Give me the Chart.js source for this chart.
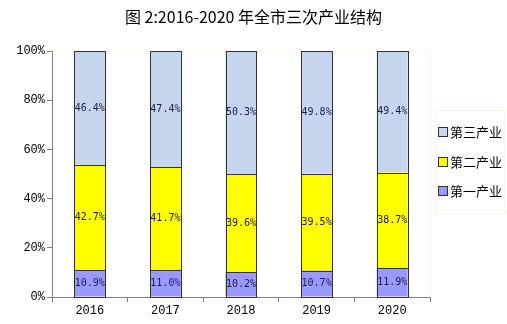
<!DOCTYPE html>
<html>
<head>
<meta charset="utf-8">
<script src="https://cdn.jsdelivr.net/npm/chart.js@4/dist/chart.umd.min.js"></script>
<style>
  html, body { margin: 0; padding: 0; background: #ffffff; }
  #wrap { width: 507px; height: 324px; }
</style>
</head>
<body>
<div id="wrap"><canvas id="c" width="507" height="324"></canvas></div>
<script>
// 2016-2020 industrial structure (share of GDP, %)
const years = ['2016', '2017', '2018', '2019', '2020'];
const primary = [10.9, 11.0, 10.2, 10.7, 11.9];
const secondary = [42.7, 41.7, 39.6, 39.5, 38.7];
const tertiary = [46.4, 47.4, 50.3, 49.8, 49.4];
const seriesNames = ['第一产业', '第二产业', '第三产业'];
const yTicks = [0, 20, 40, 60, 80, 100];

const monoFont = '"Liberation Mono", monospace';

// Crisp outlines around each segment plus percent text centred in it
const segmentLabels = {
  id: 'segmentLabels',
  afterDatasetsDraw(chart) {
    const ctx = chart.ctx;
    const area = chart.chartArea;
    ctx.save();
    ctx.strokeStyle = '#333333';
    ctx.lineWidth = 1;
    chart.data.datasets.forEach((ds, i) => {
      chart.getDatasetMeta(i).data.forEach((bar) => {
        const half = bar.width / 2;
        const l = Math.round(bar.x - half), r = Math.round(bar.x + half);
        const t = Math.round(Math.max(bar.y, area.top)), b = Math.round(bar.base);
        ctx.strokeRect(l + 0.5, t + 0.5, r - l, b - t);
      });
    });
    ctx.font = '10px "DejaVu Sans Mono", monospace';
    ctx.fillStyle = '#1c1c4c';
    ctx.textAlign = 'center';
    ctx.textBaseline = 'middle';
    chart.data.datasets.forEach((ds, i) => {
      chart.getDatasetMeta(i).data.forEach((bar, j) => {
        const v = ds.data[j];
        const top = Math.max(bar.y, area.top);
        ctx.fillText(v.toFixed(1) + '%', bar.x, (top + bar.base) / 2);
      });
    });
    ctx.restore();
  }
};

// Legend as a layout box on the right side, listing the series top-down
const sideLegend = {
  id: 'sideLegend',
  beforeInit(chart) {
    const box = {
      position: 'right',
      weight: 10,
      fullSize: false,
      options: { stackWeight: 1 },
      width: 0,
      height: 0,
      isHorizontal() { return false; },
      getPadding() { return { left: 0, right: 0, top: 0, bottom: 0 }; },
      update(maxWidth, maxHeight) {
        this.width = 77;
        this.height = maxHeight;
      },
      draw() {
        const ctx = chart.ctx;
        const area = chart.chartArea;
        ctx.save();
        // faint frame around plot area
        ctx.strokeStyle = '#fbf6e2';
        ctx.lineWidth = 1;
        ctx.strokeRect(area.left + 0.5, area.top + 0.5, area.right - area.left, area.bottom - area.top);
        // legend frame
        const lx = this.left + 5, ly = 110, lw = 70, lh = 103;
        ctx.strokeRect(lx + 0.5, ly + 0.5, lw, lh);
        ctx.font = '13px "Noto Sans CJK SC", sans-serif';
        ctx.textBaseline = 'middle';
        ctx.textAlign = 'left';
        const n = chart.data.datasets.length;
        for (let k = 0; k < n; k++) {
          const ds = chart.data.datasets[n - 1 - k];
          const cy = Math.round(ly + 22 + k * 29.5);
          ctx.fillStyle = ds.backgroundColor;
          ctx.fillRect(lx + 3.5, cy - 4.5, 9, 9);
          ctx.strokeStyle = '#333333';
          ctx.strokeRect(lx + 3.5, cy - 4.5, 9, 9);
          ctx.fillStyle = '#000000';
          ctx.fillText(ds.label, lx + 15, cy);
        }
        ctx.restore();
      }
    };
    Chart.layouts.addBox(chart, box);
  }
};

new Chart(document.getElementById('c'), {
  type: 'bar',
  data: {
    labels: years,
    datasets: [
      { label: seriesNames[0], data: primary, backgroundColor: '#9999ff' },
      { label: seriesNames[1], data: secondary, backgroundColor: '#ffff00' },
      { label: seriesNames[2], data: tertiary, backgroundColor: '#c6d6ee' }
    ].map(d => Object.assign(d, {
      borderWidth: 0,
      categoryPercentage: 1,
      barPercentage: 0.41
    }))
  },
  options: {
    responsive: false,
    animation: false,
    devicePixelRatio: 1,
    layout: { padding: 0 },
    plugins: {
      legend: { display: false },
      tooltip: { enabled: false },
      title: {
        display: true,
        text: '图 2:2016-2020 年全市三次产业结构',
        color: '#000000',
        font: { family: '"Noto Sans CJK SC", sans-serif', size: 16, weight: 'normal', lineHeight: 1.2 },
        padding: { top: 7, bottom: 24.8 }
      }
    },
    scales: {
      x: {
        stacked: true,
        offset: true,
        grid: { display: true, drawOnChartArea: false, drawTicks: true, tickLength: 5, color: '#808080', offset: true },
        border: { display: true, color: '#808080' },
        ticks: { color: '#000000', font: { family: monoFont, size: 12 }, padding: 2 },
        afterFit(s) { s.height = 27; }
      },
      y: {
        stacked: true,
        min: 0,
        max: 100,
        afterBuildTicks(s) { s.ticks = yTicks.map(v => ({ value: v })); },
        grid: { display: true, drawOnChartArea: false, drawTicks: true, tickLength: 5, color: '#808080' },
        border: { display: true, color: '#808080' },
        ticks: { color: '#000000', font: { family: monoFont, size: 12 }, padding: 2, callback: v => v + '%' },
        afterFit(s) { s.width = 52; }
      }
    }
  },
  plugins: [segmentLabels, sideLegend]
});
</script>
</body>
</html>
